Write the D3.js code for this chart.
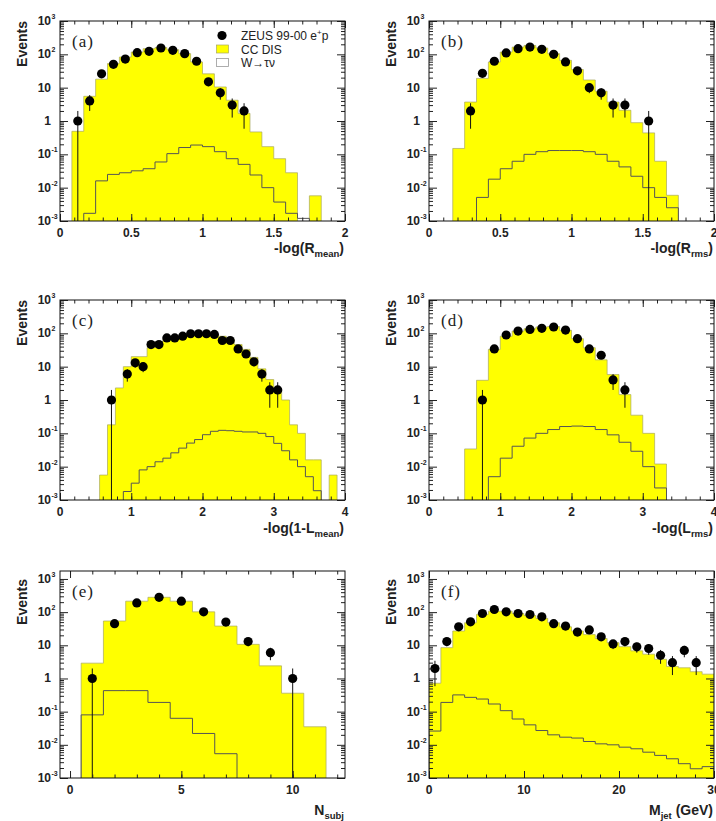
<!DOCTYPE html>
<html>
<head>
<meta charset="utf-8">
<script src="https://cdn.jsdelivr.net/npm/d3@7"></script>
<style>
  body { margin: 0; background: #fff; }
  svg { display: block; }
</style>
</head>
<body>
<script>
// ---- data (events per bin) ----

// (a) -log(Rmean), 24 bins of width 1/12 from 0
const aZeus = [0,1,4,26,50,72,112,123,155,132,105,62,15,7,3,2,0,0,0,0,0,0,0,0];
const aCC   = [0,0.49,5.5,18,53,83,117,148,160,138,105,59,26,10.5,4.2,1.7,0.47,0.17,0.074,0.028,0,0.0057,0,0];
const aW    = [0,0,0.0017,0.016,0.025,0.028,0.032,0.037,0.059,0.105,0.16,0.19,0.17,0.12,0.074,0.05,0.024,0.01,0.0037,0.0017,0.0012,0,0,0];

// (b) -log(Rrms), 24 bins of width 1/12 from 0
const bZeus = [0,0,0,2,27,62,110,148,165,141,100,59,32,10,7,3,3,0,1,0,0,0,0,0];
const bCC   = [0,0,0.15,3.7,19,59,117,165,185,155,105,66,35,17,7.8,3.7,2.1,0.89,0.44,0.062,0.0059,0,0,0];
const bW    = [0,0,0,0,0.0051,0.018,0.037,0.062,0.1,0.12,0.13,0.13,0.13,0.12,0.1,0.062,0.042,0.022,0.01,0.0051,0.0025,0,0,0];

// (c) -log(1-Lmean), 36 bins of width 1/9 from 0
const cZeus = [0,0,0,0,0,0,1,0,6,13,10,46,46,73,73,82,97,97,97,93,61,61,34,24,14,6,2,2,0,0,0,0,0,0,0,0];
const cCC   = [0,0,0,0,0,0.0056,0.18,2.3,10,20,20,37,55,66,73,82,92,99,99,92,82,66,46,33,19,8.6,4.1,2.0,1.0,0.18,0.1,0.016,0.016,0,0.0056,0];
const cW    = [0,0,0,0,0,0,0,0,0.0018,0.0032,0.008,0.01,0.014,0.018,0.026,0.036,0.051,0.065,0.091,0.115,0.123,0.12,0.115,0.11,0.11,0.1,0.08,0.05,0.03,0.016,0.01,0.005,0.0019,0,0,0];

// (d) -log(Lrms), 24 bins of width 1/6 from 0
const dZeus = [0,0,0,0,1,34,89,117,131,141,155,125,69,34,22,4,2,0,0,0,0,0,0,0];
const dCC   = [0,0,0,0.034,3.9,33,82,117,137,155,160,123,69,37,16,5.8,1.45,0.35,0.1,0.012,0,0,0,0];
const dW    = [0,0,0,0,0,0.005,0.018,0.041,0.072,0.1,0.13,0.16,0.165,0.16,0.13,0.09,0.054,0.029,0.01,0.0023,0,0,0,0];

// (e) Nsubj, 13 bins of width 1 from -0.5
const eZeus = [0,1,45,190,280,214,102,50,13,6,1,0,0];
const eCC   = [0,2.9,54,214,280,214,102,38,10.7,2.4,0.36,0.035,0];
const eW    = [0,0.08,0.43,0.43,0.19,0.063,0.022,0.0054,0,0,0,0,0];

// (f) Mjet (GeV), 24 bins of width 1.25 from 0
const fZeus = [2,13,36,51,91,120,102,91,85,72,45,38,25,29,18,11,13,9,8,5,3,7,3,0];
const fCC   = [0.72,8.5,27,48,85,107,107,91,79,65,48,36,27,21,16,12,9.1,6.8,5.4,3.8,2.3,2.1,1.6,1.35];
const fW    = [0.026,0.19,0.32,0.27,0.24,0.17,0.107,0.06,0.04,0.027,0.02,0.017,0.016,0.0126,0.0107,0.01,0.0085,0.0076,0.006,0.0048,0.0038,0.0027,0.0019,0.0022];

const legendLabels = ["ZEUS 99-00 e", "CC DIS", "W\u2192\u03c4\u03bd"];
const yDecades = [1e-3, 1e-2, 1e-1, 1, 10, 100, 1000];

// ---- drawing ----
const sans = "'Liberation Sans', Arial, Helvetica, sans-serif";
const serif = "'Liberation Serif', 'Times New Roman', serif";

var svg = d3.select("body").append("svg")
    .attr("width", 716)
    .attr("height", 821);

var panels = [
  {id: "a", zeus: aZeus, cc: aCC, w: aW, x0: 0, bw: 1/12, xdom: [0, 2], ticks: [0, 0.5, 1, 1.5, 2], minor: 0.1,
   box: [60, 345, 21, 221], ytop: 1000, title: ["-log(R", "mean", ")"], titleDy: 32},
  {id: "b", zeus: bZeus, cc: bCC, w: bW, x0: 0, bw: 1/12, xdom: [0, 2], ticks: [0, 0.5, 1, 1.5, 2], minor: 0.1,
   box: [429, 714, 21, 221], ytop: 1000, title: ["-log(R", "rms", ")"], titleDy: 32},
  {id: "c", zeus: cZeus, cc: cCC, w: cW, x0: 0, bw: 1/9, xdom: [0, 4], ticks: [0, 1, 2, 3, 4], minor: 0.2,
   box: [60, 345, 300, 500], ytop: 1000, title: ["-log(1-L", "mean", ")"], titleDy: 33},
  {id: "d", zeus: dZeus, cc: dCC, w: dW, x0: 0, bw: 1/6, xdom: [0, 4], ticks: [0, 1, 2, 3, 4], minor: 0.2,
   box: [429, 714, 300, 500], ytop: 1000, title: ["-log(L", "rms", ")"], titleDy: 33},
  {id: "e", zeus: eZeus, cc: eCC, w: eW, x0: -0.5, bw: 1, xdom: [-0.45, 12.35], ticks: [0, 5, 10], minor: 1,
   box: [60, 345, 571, 778], ytop: Math.pow(10, 3.24), title: ["N", "subj", ""], titleDy: 37},
  {id: "f", zeus: fZeus, cc: fCC, w: fW, x0: 0, bw: 1.25, xdom: [0, 30], ticks: [0, 10, 20, 30], minor: 2,
   box: [429, 714, 571, 778], ytop: Math.pow(10, 3.24), title: ["M", "jet", " (GeV)"], titleDy: 37}
];

panels.forEach(drawPanel);
drawLegend();

function drawPanel(p) {
  var left = p.box[0], right = p.box[1], top = p.box[2], bottom = p.box[3];
  var x = d3.scaleLinear().domain(p.xdom).range([left, right]);
  var y = d3.scaleLog().domain([1e-3, p.ytop]).range([bottom, top]);
  var g = svg.append("g").attr("class", "panel-" + p.id);

  g.append("clipPath").attr("id", "clip-" + p.id)
    .append("rect")
    .attr("x", left).attr("y", top)
    .attr("width", right - left).attr("height", bottom - top);

  var plot = g.append("g").attr("clip-path", "url(#clip-" + p.id + ")");

  function edge(i) { return x(p.x0 + i * p.bw); }
  function yv(v) { return v > 0 ? y(v) : bottom + 3; }

  function steps(vals) {
    var first = vals.findIndex(v => v > 0);
    var last = vals.length - 1;
    while (last > 0 && !(vals[last] > 0)) last--;
    var pts = [[edge(first), bottom + 3]];
    for (var i = first; i <= last; i++) {
      pts.push([edge(i), yv(vals[i])]);
      pts.push([edge(i + 1), yv(vals[i])]);
    }
    pts.push([edge(last + 1), bottom + 3]);
    return pts;
  }

  var line = d3.line();

  plot.append("path")
    .attr("d", line(steps(p.cc)) + "Z")
    .attr("fill", "#ffff00")
    .attr("stroke", "#a8a860")
    .attr("stroke-width", 0.7);

  plot.append("path")
    .attr("d", line(steps(p.w)))
    .attr("fill", "none")
    .attr("stroke", "#555")
    .attr("stroke-width", 1);

  var pts = p.zeus.map((v, i) => ({v: v, xc: p.x0 + (i + 0.5) * p.bw})).filter(d => d.v > 0);

  plot.selectAll("line.err")
    .data(pts)
    .enter().append("line")
    .attr("class", "err")
    .attr("x1", d => x(d.xc)).attr("x2", d => x(d.xc))
    .attr("y1", d => { var lo = d.v - Math.sqrt(d.v); return lo > 1e-3 ? y(lo) : bottom + 3; })
    .attr("y2", d => y(d.v + Math.sqrt(d.v)))
    .attr("stroke", "#111")
    .attr("stroke-width", 1);

  plot.selectAll("circle")
    .data(pts)
    .enter().append("circle")
    .attr("cx", d => x(d.xc))
    .attr("cy", d => y(d.v))
    .attr("r", 4.6)
    .attr("fill", "#000");

  // ticks, all pointing inwards
  var minorX = d3.range(p.xdom[0], p.xdom[1] + 1e-9, p.minor)
    .map(v => Math.round(v / p.minor) * p.minor)
    .filter(v => v >= p.xdom[0] && v <= p.xdom[1]);
  if (p.id == "e") minorX = d3.range(0, 13, 1);
  var minorY = [];
  yDecades.forEach(dec => { for (var k = 2; k < 10; k++) if (dec * k < p.ytop) minorY.push(dec * k); });

  function tickAxis(axis, transform, vals, len) {
    g.append("g")
      .attr("transform", transform)
      .call(axis.tickValues(vals).tickSize(len).tickFormat(""))
      .call(s => s.select(".domain").remove())
      .call(s => s.selectAll("line").attr("stroke", "#222"));
  }
  tickAxis(d3.axisBottom(x), `translate(0,${bottom})`, p.ticks, -7);
  tickAxis(d3.axisBottom(x), `translate(0,${bottom})`, minorX, -3.5);
  tickAxis(d3.axisTop(x), `translate(0,${top})`, p.ticks, -7);
  tickAxis(d3.axisTop(x), `translate(0,${top})`, minorX, -3.5);
  tickAxis(d3.axisLeft(y), `translate(${left},0)`, yDecades, -8);
  tickAxis(d3.axisLeft(y), `translate(${left},0)`, minorY, -4);
  tickAxis(d3.axisRight(y), `translate(${right},0)`, yDecades, -8);
  tickAxis(d3.axisRight(y), `translate(${right},0)`, minorY, -4);

  g.append("rect")
    .attr("x", left).attr("y", top)
    .attr("width", right - left).attr("height", bottom - top)
    .attr("fill", "none")
    .attr("stroke", "#111")
    .attr("stroke-width", 1);

  // x tick labels
  g.selectAll("text.xlab")
    .data(p.ticks)
    .enter().append("text")
    .attr("class", "xlab")
    .attr("x", d => x(d))
    .attr("y", bottom + 16)
    .attr("text-anchor", "middle")
    .attr("font-family", sans)
    .attr("font-weight", "bold")
    .attr("font-size", 12)
    .attr("fill", "#222")
    .text(d => d);

  // y tick labels: 10 with superscript exponent, plain 1 and 10
  yDecades.forEach(dec => {
    var e = Math.round(Math.log10(dec));
    var yy = y(dec) + 4;
    var base = (e == 0) ? "1" : "10";
    g.append("text")
      .attr("x", left - 9).attr("y", yy)
      .attr("text-anchor", "end")
      .attr("font-family", sans).attr("font-weight", "bold").attr("font-size", 12)
      .attr("fill", "#222")
      .text(base);
    if (e != 0 && e != 1) {
      g.append("text")
        .attr("x", left - 8.5).attr("y", yy - 6)
        .attr("font-family", sans).attr("font-weight", "bold").attr("font-size", 7)
        .attr("fill", "#222")
        .text(e);
    }
  });

  // axis titles
  g.append("text")
    .attr("transform", `translate(${left - 33},${y(1000)}) rotate(-90)`)
    .attr("text-anchor", "end")
    .attr("font-family", sans).attr("font-weight", "bold").attr("font-size", 14)
    .attr("fill", "#222")
    .text("Events");

  var t = g.append("text")
    .attr("x", right - 1).attr("y", bottom + p.titleDy)
    .attr("text-anchor", "end")
    .attr("font-family", sans).attr("font-size", 14)
    .attr("fill", "#222");
  t.append("tspan").attr("font-weight", "bold").text(p.title[0]);
  t.append("tspan").attr("dy", 4).attr("font-size", 9.5).attr("font-weight", "bold").text(p.title[1]);
  t.append("tspan").attr("dy", -4).attr("font-weight", "bold").text(p.title[2]);

  g.append("text")
    .attr("x", left + 12).attr("y", top + 26)
    .attr("font-family", serif).attr("font-size", 17)
    .attr("letter-spacing", 1)
    .attr("fill", "#222")
    .text("(" + p.id + ")");
}

function drawLegend() {
  var lg = svg.append("g").attr("font-family", sans).attr("font-size", 12).attr("fill", "#222");
  lg.append("circle").attr("cx", 222).attr("cy", 35.5).attr("r", 4.6).attr("fill", "#000");
  lg.append("rect").attr("x", 216.5).attr("y", 45).attr("width", 12).attr("height", 8)
    .attr("fill", "#ffff00").attr("stroke", "#a8a860").attr("stroke-width", 0.7);
  lg.append("rect").attr("x", 216.5).attr("y", 58.5).attr("width", 12).attr("height", 8)
    .attr("fill", "#fff").attr("stroke", "#999").attr("stroke-width", 0.8);

  var t0 = lg.append("text").attr("x", 241).attr("y", 40).text(legendLabels[0]);
  t0.append("tspan").attr("dy", -5).attr("font-size", 8).text("+");
  t0.append("tspan").attr("dy", 5).text("p");
  lg.append("text").attr("x", 241).attr("y", 53.5).text(legendLabels[1]);
  lg.append("text").attr("x", 241).attr("y", 67).text(legendLabels[2]);
}
</script>
</body>
</html>
